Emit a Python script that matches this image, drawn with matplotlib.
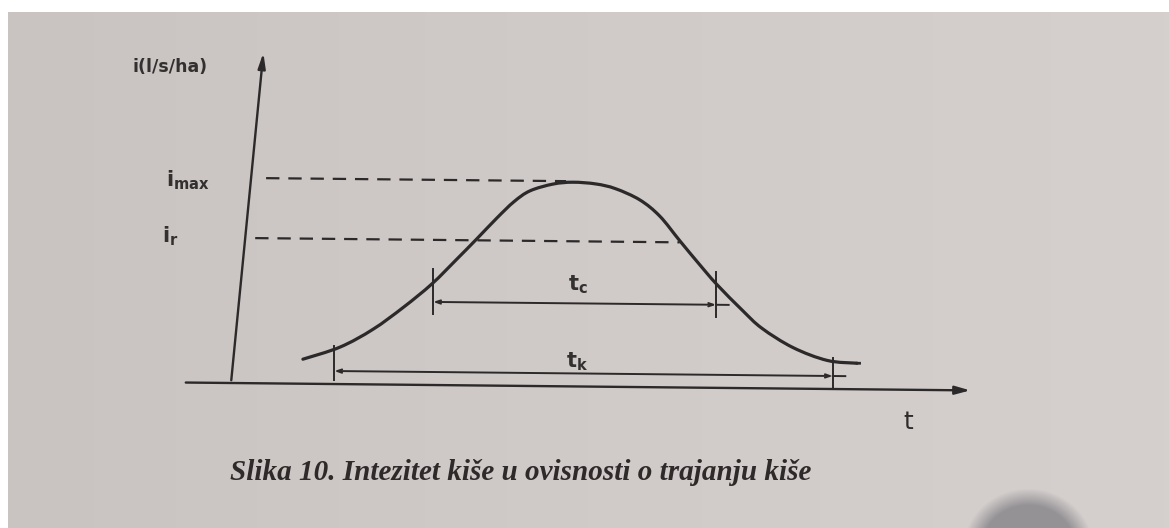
import numpy as np
import matplotlib
matplotlib.use("Agg")
import matplotlib.pyplot as plt
from matplotlib.transforms import Affine2D
from matplotlib.patches import Rectangle, PathPatch
from matplotlib.path import Path

# rain hyetograph (schematic) in chart units
curve_t = [1.39, 2.11, 2.73, 3.30, 3.82, 4.27, 4.63, 4.99, 5.30, 5.60, 6.05, 6.44,
           6.90, 7.30, 7.81, 8.24, 8.69, 9.14, 9.51, 10.08, 10.50, 11.16, 11.87, 12.47]
curve_i = [0.49, 0.74, 1.10, 1.55, 2.02, 2.52, 2.93, 3.35, 3.68, 3.90, 4.04, 4.08,
           4.05, 3.96, 3.74, 3.42, 2.93, 2.45, 2.07, 1.55, 1.20, 0.82, 0.57, 0.52]

i_max, t_peak = 4.10, 6.30
i_r, t_r_end = 2.90, 8.69
tc_start, tc_end, tc_level = 3.88, 9.54, 1.66
tk_start, tk_end, tk_level = 2.04, 12.01, 0.26
t_axis_end, i_axis_end = 14.84, 6.66

y_label = "i(l/s/ha)"
caption = "Slika 10. Intezitet kiše u ovisnosti o trajanju kiše"

INK = "#2b2929"


def smooth_path(xs, ys):
    # catmull-rom through the points, drawn as cubic beziers
    p = np.column_stack([xs, ys])
    p = np.vstack([p[0], p, p[-1]])
    verts, codes = [p[1]], [Path.MOVETO]
    for k in range(1, len(p) - 2):
        c1 = p[k] + (p[k + 1] - p[k - 1]) / 6
        c2 = p[k + 1] - (p[k + 2] - p[k]) / 6
        verts += [c1, c2, p[k + 1]]
        codes += [Path.CURVE4] * 3
    return Path(verts, codes)


fig = plt.figure(figsize=(11.69, 5.28), dpi=100, facecolor="white")
ax = fig.add_axes([0, 0, 1, 1])
ax.set_xlim(0, 1169)
ax.set_ylim(528, 0)
ax.axis("off")

# paper background with a soft light gradient
paper = matplotlib.colors.LinearSegmentedColormap.from_list(
    "paper", ["#c9c3c1", "#d0cac8", "#d5d0ce"])
ax.imshow(np.linspace(0, 1, 256)[None, :], extent=(8, 1169, 528, 12), cmap=paper,
          aspect="auto", zorder=0)

# blurry shadow bottom right
yy, xx = np.mgrid[440:528, 940:1120]
d = np.sqrt(((xx - 1028) / 52.0) ** 2 + ((yy - 548) / 48.0) ** 2)
alpha = np.clip((1.25 - d) / 0.35, 0, 1) * 0.75
shadow = np.zeros(xx.shape + (4,))
shadow[..., :3] = np.array([0x80, 0x7e, 0x84]) / 255
shadow[..., 3] = alpha
ax.imshow(shadow, extent=(940, 1120, 528, 440), aspect="auto", zorder=1, interpolation="bilinear")

# chart coords (t, i) -> pixel, slightly sheared like the photo
M = np.array([[50.0, 4.9, 231.0], [0.5, -50.0, 383.0], [0, 0, 1]])
tr = Affine2D(M) + ax.transData

# axes
ax.annotate("", xy=(t_axis_end, 0), xytext=(-0.96, 0), xycoords=tr, textcoords=tr,
            arrowprops=dict(arrowstyle="-|>,head_length=0.9,head_width=0.25", color=INK, lw=1.7))
ax.annotate("", xy=(0, i_axis_end), xytext=(0, 0), xycoords=tr, textcoords=tr,
            arrowprops=dict(arrowstyle="-|>,head_length=0.9,head_width=0.22", color=INK, lw=1.7))

# curve
ax.add_patch(PathPatch(smooth_path(curve_t, curve_i), facecolor="none", edgecolor=INK,
                       lw=2.3, transform=tr, zorder=3, capstyle="round"))
ax.plot([curve_t[-1], curve_t[-1] + 0.05], [curve_i[-1], curve_i[-1]], color=INK, lw=2.0, transform=tr)

# dashed reference levels
ax.plot([0.3, t_peak], [i_max, i_max], color=INK, lw=1.6, ls=(0, (6, 4)), transform=tr)
ax.plot([0.2, t_r_end], [i_r, i_r], color=INK, lw=1.6, ls=(0, (6, 4)), transform=tr)

# durations t_c and t_k
for ts, te, lv, lo, hi, hi_end in [(tc_start, tc_end, tc_level, 1.42, 2.31, 2.31),
                                   (tk_start, tk_end, tk_level, 0.08, 0.76, 0.62)]:
    ax.annotate("", xy=(te, lv), xytext=(ts, lv), xycoords=tr, textcoords=tr,
                arrowprops=dict(arrowstyle="<->,head_length=0.35,head_width=0.12",
                                color=INK, lw=1.4, shrinkA=0, shrinkB=0))
    ax.plot([te, te + 0.25], [lv, lv], color=INK, lw=1.4, transform=tr)
    # ticks drawn upright (no shear), anchored where they cross the dimension line
    Mv = M.copy()
    Mv[0, 1] = 0.0
    Mv[0, 2] += 4.9 * lv
    trv = Affine2D(Mv) + ax.transData
    ax.plot([ts, ts], [lo, hi], color=INK, lw=1.4, transform=trv)
    ax.plot([te, te], [0.0 if te > 11 else lo, hi_end], color=INK, lw=1.4, transform=trv)

# labels
lab = dict(color="#333030", fontweight="bold", family="DejaVu Sans", transform=tr)
ax.text(-1.84, 6.30, y_label, fontsize=12.5, ha="center", va="center", **lab)
ax.text(-1.27, 4.05, r"$\mathbf{i}_{\mathbf{max}}$", fontsize=15, ha="center", va="center", **lab)
ax.text(-1.50, 2.92, r"$\mathbf{i}_{\mathbf{r}}$", fontsize=15, ha="center", va="center", **lab)
ax.text(6.74, 2.03, r"$\mathbf{t}_{\mathbf{c}}$", fontsize=15, ha="center", va="center", **lab)
ax.text(6.87, 0.49, r"$\mathbf{t}_{\mathbf{k}}$", fontsize=15, ha="center", va="center", **lab)
ax.text(13.6, -0.64, "t", fontsize=18, color="#2e2b2b", family="DejaVu Sans",
        ha="center", va="center", transform=tr)

fig.text(521 / 1169, 1 - 472 / 528, caption, fontsize=21, fontweight="bold", fontstyle="italic",
         family="Liberation Serif", color="#2f2a2a", ha="center", va="center")

# white margin of the photo
ax.add_patch(Rectangle((0, 0), 1169, 12, facecolor="white", edgecolor="none", zorder=5))
ax.add_patch(Rectangle((0, 0), 8, 528, facecolor="white", edgecolor="none", zorder=5))

fig.savefig("out.png", dpi=100, facecolor="white")
